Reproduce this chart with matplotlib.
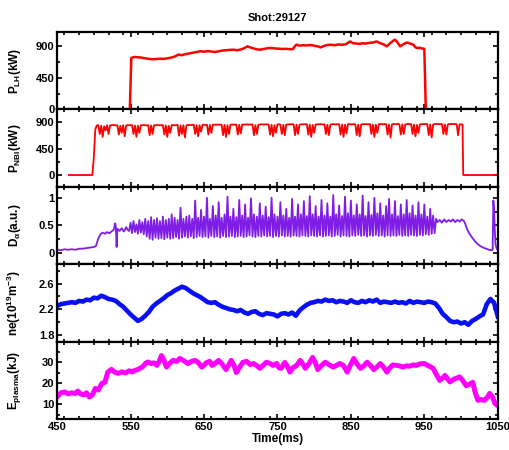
import numpy as np
import matplotlib
matplotlib.use('Agg')
import matplotlib.pyplot as plt
from matplotlib.ticker import MultipleLocator

plt.rcParams['font.family'] = ['Liberation Sans', 'DejaVu Sans']
plt.rcParams['font.weight'] = 'bold'
plt.rcParams['mathtext.fontset'] = 'custom'
plt.rcParams['mathtext.rm'] = 'Liberation Sans:bold'
plt.rcParams['mathtext.bf'] = 'Liberation Sans:bold'
plt.rcParams['mathtext.it'] = 'Liberation Sans:bold'
plt.rcParams['mathtext.default'] = 'bf'

shot = '29127'

# --- P_LH (kW)
lh_t = [450, 549, 551, 555, 560, 565, 570, 575, 580, 585, 590, 595, 600, 605, 610, 615, 620, 625,
        630, 635, 640, 645, 650, 655, 660, 665, 670, 675, 680, 685, 690, 695, 700, 705, 709, 713,
        718, 722, 727, 732, 737, 742, 747, 752, 757, 762, 767, 771, 774, 776, 780, 785, 790, 795,
        800, 805, 809, 813, 818, 823, 828, 833, 838, 843, 846, 849, 853, 858, 862, 866, 870, 875,
        880, 885, 890, 895, 899, 903, 907, 910, 913, 917, 920, 923, 926, 929, 932, 935, 938, 941,
        944, 947, 950, 952, 1050]
lh_v = [0, 0, 731, 745, 740, 735, 725, 718, 712, 715, 720, 717, 725, 735, 750, 778, 770, 785,
        795, 805, 815, 825, 820, 828, 822, 815, 825, 835, 840, 845, 848, 840, 850, 870, 895, 880,
        865, 852, 848, 860, 870, 872, 865, 862, 858, 860, 855, 857, 900, 920, 905, 912, 908, 915,
        905, 895, 880, 900, 915, 918, 912, 922, 918, 925, 945, 965, 940, 935, 930, 940, 935, 945,
        950, 965, 940, 920, 895, 935, 970, 990, 960, 895, 915, 935, 950, 940, 930, 920, 880, 870,
        875, 865, 860, 0, 0]

# --- P_NBI (kW), 2 ms samples from 502 to 1000
nbi_head_t = [466, 498, 500]
nbi_head_v = [0, 0, 300]
nbi_body = [
    780, 845, 850, 700, 840, 650, 830, 760, 850, 700,
    845, 850, 855, 850, 845, 850, 690, 840, 720, 850,
    660, 845, 850, 848, 852, 850, 700, 845, 650, 840,
    720, 850, 848, 852, 850, 845, 850, 680, 845, 700,
    850, 848, 852, 850, 846, 850, 852, 690, 845, 650,
    840, 720, 850, 852, 848, 850, 855, 670, 845, 700,
    850, 640, 845, 855, 852, 850, 855, 858, 700, 850,
    660, 850, 740, 855, 858, 852, 856, 690, 855, 720,
    858, 860, 855, 858, 862, 856, 860, 680, 855, 650,
    850, 700, 858, 860, 862, 858, 860, 690, 856, 710,
    858, 862, 860, 864, 858, 862, 860, 865, 680, 850,
    700, 858, 860, 865, 862, 860, 866, 862, 860, 690,
    855, 660, 850, 720, 862, 865, 860, 700, 855, 680,
    860, 862, 866, 862, 868, 864, 680, 860, 700, 855,
    865, 862, 868, 864, 866, 690, 860, 650, 855, 720,
    860, 866, 864, 868, 865, 862, 866, 700, 858, 680,
    860, 866, 868, 865, 862, 868, 866, 690, 860, 650,
    858, 710, 866, 868, 864, 866, 868, 865, 680, 860,
    660, 862, 868, 866, 870, 864, 866, 868, 700, 860,
    650, 858, 720, 866, 870, 868, 864, 870, 866, 690,
    860, 640, 865, 870, 866, 868, 872, 866, 690, 862,
    700, 860, 868, 872, 866, 870, 700, 860, 660, 855,
    720, 862, 868, 870, 866, 872, 868, 680, 862, 640,
    860, 868, 872, 870, 866, 870, 868, 700, 860, 690,
    862, 870, 868, 872, 866, 870, 866, 680, 862, 866,
]
nbi_tail_t = [1002, 1003, 1050]
nbi_tail_v = [860, 0, 0]

# --- D_alpha (a.u.)
da_head_t = [450, 455, 460, 465, 470, 475, 480, 485, 490, 495, 500, 503, 506, 509, 512, 515, 518,
             521, 524, 527, 529, 530, 531, 532, 535, 538, 541, 544, 546]
da_head_v = [.06, .05, .07, .06, .07, .06, .08, .08, .09, .10, .11, .13, .26, .34, .37, .35, .38,
             .36, .39, .42, .54, .47, .11, .44, .40, .45, .39, .47, .42]
# 2 ms samples from 548 to 966
da_body = [
    .40, .55, .36, .58, .38, .52, .35, .60, .37, .56,
    .34, .62, .30, .58, .26, .65, .24, .60, .28, .63,
    .26, .58, .27, .66, .25, .60, .28, .62, .26, .70,
    .27, .64, .29, .60, .26, .82, .28, .62, .30, .66,
    .28, .68, .30, .62, .27, .95, .29, .64, .31, .78,
    .29, .66, .30, 1.00, .28, .62, .31, .85, .29, .68,
    .30, .92, .28, .64, .31, .70, .29, 1.02, .30, .66,
    .31, .80, .29, .65, .30, .96, .31, .68, .29, .88,
    .30, .64, .32, .99, .30, .70, .29, .66, .31, .90,
    .30, .68, .32, .84, .30, .65, .31, 1.00, .29, .70,
    .31, .66, .30, .92, .32, .68, .30, .80, .31, .64,
    .30, .98, .32, .66, .31, .88, .30, .70, .32, .94,
    .31, .67, .30, 1.03, .32, .70, .31, .85, .30, .66,
    .32, .96, .30, .68, .31, .90, .32, .66, .30, 1.05,
    .31, .70, .33, .86, .30, .67, .32, 1.02, .31, .72,
    .30, .95, .32, .68, .31, .88, .33, .70, .31, 1.04,
    .32, .67, .30, .92, .32, .69, .31, 1.00, .33, .72,
    .31, .90, .32, .68, .30, .85, .32, .98, .31, .70,
    .32, .94, .31, .67, .33, .88, .31, .70, .32, .96,
    .31, .72, .33, .86, .32, .68, .31, .92, .33, .70,
    .32, .88, .34, .66, .33, .80, .35, .68, .36, .62,
]
da_tail_t = [968, 971, 974, 977, 980, 983, 986, 989, 992, 995, 998, 1001, 1004, 1006, 1008, 1011,
             1014, 1018, 1022, 1026, 1030, 1034, 1038, 1042, 1043, 1044, 1045, 1046, 1047, 1049, 1050]
da_tail_v = [.56, .60, .55, .61, .56, .60, .57, .61, .56, .60, .57, .61, .58, .52, .44, .36,
             .30, .23, .17, .13, .10, .08, .06, .05, .06, .95, .80, .40, .15, .07, .05]

# --- ne (1e19 m^-3)
ne_t = list(range(450, 1051, 5))
ne_v = [2.25, 2.28, 2.29, 2.30, 2.31, 2.30, 2.33, 2.32, 2.35, 2.34, 2.38, 2.37, 2.41, 2.39, 2.36,
        2.35, 2.33, 2.28, 2.24, 2.18, 2.12, 2.07, 2.02, 2.05, 2.10, 2.16, 2.24, 2.29, 2.33, 2.37,
        2.42, 2.45, 2.49, 2.52, 2.55, 2.53, 2.49, 2.45, 2.42, 2.39, 2.35, 2.31, 2.30, 2.31, 2.27,
        2.24, 2.22, 2.20, 2.19, 2.17, 2.19, 2.15, 2.13, 2.16, 2.17, 2.13, 2.11, 2.14, 2.13, 2.12,
        2.09, 2.13, 2.14, 2.12, 2.15, 2.10, 2.18, 2.23, 2.27, 2.30, 2.31, 2.33, 2.32, 2.35, 2.33,
        2.34, 2.31, 2.33, 2.32, 2.30, 2.34, 2.31, 2.30, 2.33, 2.31, 2.34, 2.32, 2.35, 2.30, 2.32,
        2.31, 2.30, 2.32, 2.30, 2.31, 2.29, 2.33, 2.30, 2.32, 2.31, 2.30, 2.32, 2.31, 2.29, 2.22,
        2.13, 2.08, 2.02, 2.00, 2.01, 1.98, 2.00, 1.96, 2.02, 2.05, 2.09, 2.12, 2.28, 2.36, 2.30,
        2.09]

# --- E_plasma (kJ)
e_t = [450, 455, 460, 465, 470, 475, 478, 482, 486, 490, 494, 498, 502, 506, 511, 515, 519, 524,
       528, 533, 538, 543, 548, 552, 556, 561, 567, 571, 574, 578, 582, 586, 589, 592, 595, 599,
       603, 608, 613, 617, 622, 628, 633, 638, 642, 647, 651, 654, 658, 661, 665, 670, 674, 680,
       684, 687, 691, 694, 698, 703, 708, 713, 717, 722, 726, 730, 735, 740, 744, 749, 752, 755,
       760, 764, 767, 771, 776, 781, 785, 788, 793, 798, 802, 805, 810, 815, 820, 826, 830, 835,
       840, 845, 849, 854, 858, 863, 868, 872, 877, 881, 886, 890, 894, 899, 903, 907, 912, 917,
       921, 926, 930, 935, 939, 944, 950, 955, 958, 962, 966, 971, 975, 978, 981, 985, 990, 994,
       998, 1002, 1007, 1011, 1016, 1019, 1023, 1027, 1032, 1036, 1039, 1043, 1046, 1049, 1050]
e_v = [13.5, 15.5, 15.9, 15.0, 15.5, 15.2, 16.3, 15.0, 14.5, 15.5, 13.5, 14.5, 17.6, 16.8, 20.0,
       20.5, 25.4, 26.7, 25.5, 24.8, 25.5, 25.0, 26.0, 25.5, 26.2, 26.8, 28.1, 29.8, 30.2, 29.5,
       29.8, 28.6, 30.5, 33.3, 31.5, 27.8, 29.5, 31.0, 30.5, 31.9, 31.0, 29.5, 30.5, 31.0, 30.0,
       27.8, 29.0, 30.1, 30.5, 28.6, 29.5, 31.0, 29.5, 26.6, 29.0, 31.0, 28.5, 25.2, 27.5, 30.1,
       30.5, 29.0, 29.5, 28.5, 27.2, 28.5, 30.1, 29.5, 28.6, 29.5, 27.5, 27.2, 30.0, 28.0, 25.4,
       27.5, 28.5, 31.0, 29.0, 27.2, 29.5, 32.4, 29.5, 26.6, 28.5, 30.1, 29.0, 27.8, 28.5, 29.5,
       28.5, 25.4, 28.5, 31.9, 29.5, 27.2, 28.5, 30.1, 28.5, 26.6, 28.0, 29.5, 28.0, 25.4, 27.5,
       28.8, 28.6, 28.3, 27.8, 28.4, 28.2, 28.8, 28.6, 29.3, 29.5, 28.5, 28.0, 27.2, 24.5, 21.4,
       22.5, 23.8, 22.5, 20.7, 22.0, 22.5, 23.1, 21.5, 18.9, 19.5, 20.5, 16.0, 11.9, 12.3, 11.9,
       13.5, 15.2, 13.5, 10.5, 9.5, 10.0]

# assemble the sampled series
nbi_t = nbi_head_t + list(range(502, 1001, 2)) + nbi_tail_t
nbi_v = nbi_head_v + nbi_body + nbi_tail_v
da_t = da_head_t + list(range(548, 967, 2)) + da_tail_t
da_v = da_head_v + da_body + da_tail_v

panels = [
    (lh_t, lh_v, 'red', 1.8, r'P$_{LH}$(kW)', (0, 1100), [0, 450, 900], 225),
    (nbi_t, nbi_v, 'red', 1.3, r'P$_{NBI}$(kW)', (-200, 1120), [0, 450, 900], 225),
    (da_t, da_v, '#7f1de6', 1.3, r'D$_{\alpha}$(a.u.)', (-0.2, 1.2), [0, 0.5, 1], 0.25),
    (ne_t, ne_v, '#0a10f5', 3.3, r'ne(10$^{19}$m$^{-3}$)', (1.7, 2.9), [1.8, 2.2, 2.6], 0.2),
    (e_t, e_v, '#ff00ff', 3.6, r'E$_{plasma}$(kJ)', (3, 40), [10, 20, 30], 5),
]
tick_fmt = [lambda v: f'{v:.0f}', lambda v: f'{v:.0f}', lambda v: f'{v:g}',
            lambda v: f'{v:.1f}', lambda v: f'{v:.0f}']

fig, axes = plt.subplots(5, 1, sharex=True, figsize=(5.1, 4.5), dpi=100)
fig.subplots_adjust(left=0.112, right=0.976, top=0.929, bottom=0.069, hspace=0)

for ax, (t, v, col, lw, lab, ylim, yt, ymin), fmt in zip(axes, panels, tick_fmt):
    ax.plot(t, v, color=col, lw=lw)
    ax.set_ylim(*ylim)
    ax.set_yticks(yt)
    ax.set_yticklabels([fmt(y) for y in yt])
    ax.yaxis.set_minor_locator(MultipleLocator(ymin))
    ax.set_ylabel(lab, fontsize=8.5, fontweight='bold')
    ax.yaxis.set_label_coords(-0.077, 0.5)
    for s in ax.spines.values():
        s.set_linewidth(1.6)
    ax.tick_params(which='both', direction='in', top=True, right=True,
                   width=1.2, labelsize=8, pad=2)
    ax.tick_params(which='major', length=3.5)
    ax.tick_params(which='minor', length=2.5)
    for lbl in ax.get_yticklabels():
        lbl.set_fontweight('bold')

axes[-1].set_xlim(450, 1050)
axes[-1].set_xticks(range(450, 1051, 100))
axes[-1].xaxis.set_minor_locator(MultipleLocator(20))
axes[-1].set_xlabel('Time(ms)', fontsize=8.5, fontweight='bold', labelpad=1)
for lbl in axes[-1].get_xticklabels():
    lbl.set_fontweight('bold')
axes[0].set_title('Shot:' + shot, fontsize=8, fontweight='bold', pad=8)

fig.savefig('out.png', dpi=100)
